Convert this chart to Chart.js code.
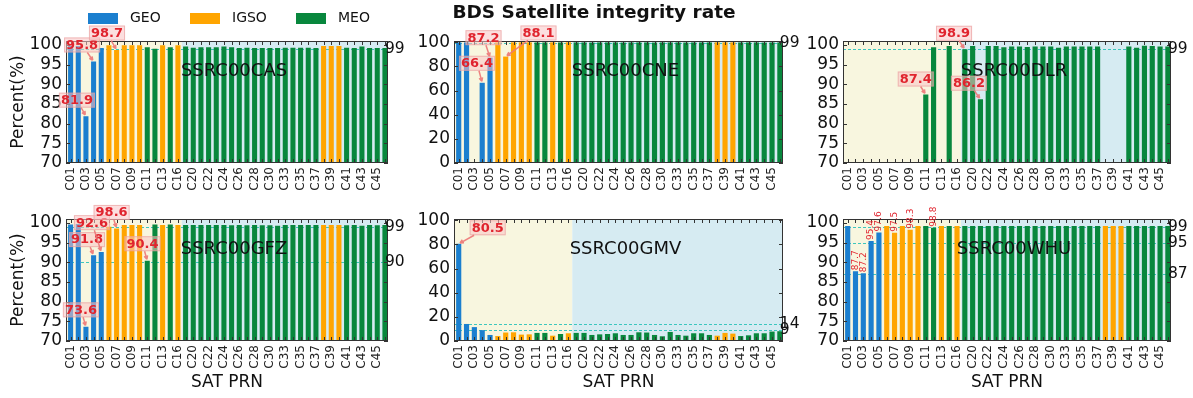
<!DOCTYPE html>
<html>
<head>
<meta charset="utf-8">
<title>BDS Satellite integrity rate</title>
<script src="https://cdn.jsdelivr.net/npm/chart.js@4.4.0/dist/chart.umd.min.js"></script>
<style>
  html, body { margin: 0; padding: 0; background: #fff; }
  #fig { position: relative; width: 1193px; height: 398px; overflow: hidden; background: #fff; }
  #fig canvas { position: absolute; left: 0; top: 0; }
</style>
</head>
<body>
<div id="fig"></div>
<script>
// ---- data -------------------------------------------------------------
const prn = ['C01','C02','C03','C04','C05','C06','C07','C08','C09','C10',
             'C11','C12','C13','C14','C16','C19','C20','C21','C22','C23',
             'C24','C25','C26','C27','C28','C29','C30','C32','C33','C34',
             'C35','C36','C37','C38','C39','C40','C41','C42','C43','C44',
             'C45','C46'];

// orbit type of each satellite (same order as prn)
const orbitType = ['GEO','GEO','GEO','GEO','GEO','IGSO','IGSO','IGSO','IGSO','IGSO',
                   'MEO','MEO','IGSO','MEO','IGSO','MEO','MEO','MEO','MEO','MEO',
                   'MEO','MEO','MEO','MEO','MEO','MEO','MEO','MEO','MEO','MEO',
                   'MEO','MEO','MEO','IGSO','IGSO','IGSO','MEO','MEO','MEO','MEO',
                   'MEO','MEO'];

const orbitNames = ['GEO', 'IGSO', 'MEO'];

// integrity rate (%) per analysis centre, null = no product for that satellite
const cas = [99.8, 99.7, 81.9, 95.8, 99.2, 99.9, 98.7, 99.9, 99.9, 99.9,
             99.4, 99.0, 99.9, 99.4, 99.9, 99.6, 99.3, 99.4, 99.4, 99.4,
             99.6, 99.4, 99.2, 99.3, 99.2, 99.2, 99.2, 99.2, 99.3, 99.3,
             99.3, 99.3, 99.2, 99.7, 99.7, 99.7, 99.3, 99.2, 99.6, 99.2,
             99.2, 99.2];

const cne = [99.9, 99.8, null, 66.4, 87.2, 99.9, 88.1, 99.9, 99.9, 99.9,
             99.8, 99.8, 99.9, 99.8, 99.9, 99.8, 99.8, 99.7, 99.8, 99.8,
             99.8, 99.7, 99.8, 99.8, 99.8, 99.7, 99.8, 99.8, 99.8, 99.7,
             99.8, 99.8, 99.8, 99.9, 99.9, 99.9, 99.8, 99.8, 99.8, 99.7,
             99.8, 99.8];

const dlr = [null, null, null, null, null, null, null, null, null, null,
             87.4, 99.4, null, 99.7, null, 98.9, 99.7, 86.2, 99.7, 99.7,
             99.4, 99.6, 99.6, 99.5, 99.6, 99.6, 99.6, 99.3, 99.6, 99.6,
             99.6, 99.6, 99.6, null, null, null, 99.6, 99.3, 99.8, 99.7,
             99.6, 99.6];

const gfz = [99.6, 99.7, 73.6, 91.8, 92.6, 99.0, 98.6, 99.5, 99.5, 99.5,
             90.4, 99.6, 99.5, 99.6, 99.5, 99.5, 99.5, 99.5, 99.5, 99.5,
             99.5, 99.4, 99.5, 99.4, 99.5, 99.4, 99.4, 99.3, 99.5, 99.5,
             99.5, 99.5, 99.5, 99.5, 99.5, 99.5, 99.4, 99.5, 99.3, 99.5,
             99.4, 99.5];

const gmv = [80.5, 14.1, 11.5, 9.0, 5.0, 4.1, 7.0, 7.2, 5.3, 5.5,
             6.7, 6.7, 4.4, 5.8, 6.4, 6.7, 6.7, 5.0, 5.5, 5.8,
             6.4, 5.0, 5.0, 7.2, 7.0, 5.0, 3.9, 7.5, 5.0, 4.4,
             6.4, 6.4, 5.0, 4.4, 6.7, 6.1, 4.1, 4.7, 6.4, 6.4,
             7.8, 8.1];

const whu = [99.2, 87.7, 87.2, 95.4, 97.6, 99.2, 97.5, 99.2, 98.3, 99.2,
             99.2, 98.8, 99.2, 99.2, 99.2, 99.2, 99.2, 99.2, 99.2, 99.2,
             99.2, 99.2, 99.2, 99.2, 99.2, 99.2, 99.2, 99.2, 99.2, 99.2,
             99.2, 99.2, 99.2, 99.2, 99.2, 99.2, 99.2, 99.2, 99.2, 99.2,
             99.2, 99.2];

// reference levels marked with dashed lines
const refCas = [99];
const refCne = [99];
const refDlr = [99];
const refGfz = [99, 90];
const refGmv = [14, 9];
const refWhu = [99, 95, 87];

// tick labels
const xTickLabels = prn.map((p, i) => (i % 2 === 0 ? p : ''));
const yTicksHigh = [70, 75, 80, 85, 90, 95, 100];
const yTicksFull = [0, 20, 40, 60, 80, 100];

// ---- styling ----------------------------------------------------------
const W = 1193, H = 398;
const FONT = "'DejaVu Sans', 'Liberation Sans', sans-serif";
const COLORS = { GEO: '#1b7fcf', IGSO: '#ffa500', MEO: '#08873d' };
const BAND_GEO_IGSO = '#f8f6df';
const BAND_MEO = '#d6ebf2';
const REF_COLOR = 'rgba(52,196,186,0.95)';
const NOTE_COLOR = '#e0242e';
const FRAME = '#333333';

// panel layout: plot rectangle [left, top, right, bottom], height of the tick label band
const panels = [
  { name: 'SSRC00CAS', values: cas, refs: refCas, yMin: 70, yTicks: yTicksHigh,
    plot: [66, 41, 388, 163], band: 35, yTitle: true, xTitle: false, header: true,
    notes: [{ i: 2, dx: -9, dy: -16 }, { i: 3, dx: -11.5, dy: -16.5 }, { i: 6, dx: -9.6, dy: -17 }] },
  { name: 'SSRC00CNE', values: cne, refs: refCne, yMin: 0, yTicks: yTicksFull,
    plot: [454, 41, 783, 163], band: 35, yTitle: false, xTitle: false,
    notes: [{ i: 3, dx: -5.2, dy: -19.5 }, { i: 4, dx: -6.5, dy: -20 }, { i: 6, dx: 32.8, dy: -23.6 }] },
  { name: 'SSRC00DLR', values: dlr, refs: refDlr, yMin: 70, yTicks: yTicksHigh,
    plot: [843, 41, 1171, 163], band: 35, yTitle: false, xTitle: false,
    notes: [{ i: 10, dx: -10, dy: -15.5 }, { i: 15, dx: -10.8, dy: -16 }, { i: 17, dx: -11.5, dy: -16 }] },
  { name: 'SSRC00GFZ', values: gfz, refs: refGfz, yMin: 70, yTicks: yTicksHigh,
    plot: [66, 219, 388, 341], band: 57, yTitle: true, xTitle: true,
    notes: [{ i: 2, dx: -5, dy: -17 }, { i: 3, dx: -6.6, dy: -15.6 }, { i: 4, dx: -9.3, dy: -29.4 },
            { i: 6, dx: -5, dy: -16 }, { i: 10, dx: -4.8, dy: -17 }] },
  { name: 'SSRC00GMV', values: gmv, refs: refGmv, yMin: 0, yTicks: yTicksFull,
    plot: [454, 219, 783, 341], band: 57, yTitle: false, xTitle: true,
    notes: [{ i: 0, dx: 29, dy: -16 }] },
  { name: 'SSRC00WHU', values: whu, refs: refWhu, yMin: 70, yTicks: yTicksHigh,
    plot: [843, 219, 1171, 341], band: 57, yTitle: false, xTitle: true,
    notes: [], tags: [1, 2, 3, 4, 6, 8, 11] }
];

// ---- drawing helpers --------------------------------------------------
function drawBoxedNote(ctx, bx, by, text, dx, dy) {
  ctx.save();
  ctx.font = 'bold 13px ' + FONT;
  const tw = ctx.measureText(text).width;
  const bw = tw + 4, bh = 15;
  const cx = bx + dx, cy = by + dy;
  // arrow from the box edge to the bar top
  const vx = bx - cx, vy = by - cy;
  const s = Math.min(Math.abs(vx) > 1e-6 ? (bw / 2) / Math.abs(vx) : Infinity,
                     Math.abs(vy) > 1e-6 ? (bh / 2) / Math.abs(vy) : Infinity);
  const sx = cx + vx * s, sy = cy + vy * s;
  const len = Math.hypot(bx - sx, by - sy);
  const ux = (bx - sx) / len, uy = (by - sy) / len;
  const ex = bx - ux * 1.5, ey = by - uy * 1.5;
  ctx.fillStyle = 'rgba(250,196,196,0.55)';
  ctx.strokeStyle = 'rgba(232,150,150,0.55)';
  ctx.lineWidth = 1;
  ctx.fillRect(cx - bw / 2, cy - bh / 2, bw, bh);
  ctx.strokeRect(cx - bw / 2 + 0.5, cy - bh / 2 + 0.5, bw - 1, bh - 1);
  ctx.strokeStyle = 'rgba(236,118,118,0.9)';
  ctx.lineWidth = 1.5;
  ctx.beginPath();
  ctx.moveTo(sx, sy);
  ctx.lineTo(ex, ey);
  const a = Math.atan2(uy, ux), hl = 4;
  ctx.moveTo(ex, ey);
  ctx.lineTo(ex - hl * Math.cos(a - 0.45), ey - hl * Math.sin(a - 0.45));
  ctx.moveTo(ex, ey);
  ctx.lineTo(ex - hl * Math.cos(a + 0.45), ey - hl * Math.sin(a + 0.45));
  ctx.stroke();
  ctx.fillStyle = NOTE_COLOR;
  ctx.textAlign = 'center';
  ctx.textBaseline = 'middle';
  ctx.fillText(text, cx, cy + 0.5);
  ctx.restore();
}

function drawHeader(ctx) {
  ctx.save();
  ctx.fillStyle = '#111';
  ctx.font = 'bold 18.5px ' + FONT;
  ctx.textAlign = 'center';
  ctx.textBaseline = 'middle';
  ctx.fillText('BDS Satellite integrity rate', 594, 13.5);
  const patchX = [88, 190, 296];
  ctx.font = '14px ' + FONT;
  ctx.textAlign = 'left';
  orbitNames.forEach((n, k) => {
    ctx.fillStyle = COLORS[n];
    ctx.fillRect(patchX[k], 13, 30, 11);
    ctx.fillStyle = '#111';
    ctx.fillText(n, patchX[k] + 42, 18.5);
  });
  ctx.restore();
}

const panelDecor = {
  id: 'panelDecor',
  beforeDatasetsDraw(chart, args, o) {
    const { ctx, chartArea: a, scales: { x, y } } = chart;
    const split = x.getPixelForValue(o.split);
    ctx.save();
    ctx.fillStyle = BAND_GEO_IGSO;
    ctx.fillRect(a.left, a.top, split - a.left, a.bottom - a.top);
    ctx.fillStyle = BAND_MEO;
    ctx.fillRect(split, a.top, a.right - split, a.bottom - a.top);
    ctx.strokeStyle = REF_COLOR;
    ctx.lineWidth = 1;
    ctx.setLineDash([3, 2]);
    o.refs.forEach(v => {
      const py = Math.round(y.getPixelForValue(v)) + 0.5;
      ctx.beginPath();
      ctx.moveTo(a.left, py);
      ctx.lineTo(a.right, py);
      ctx.stroke();
    });
    ctx.restore();
  },
  afterDraw(chart, args, o) {
    const { ctx, chartArea: a, scales: { x, y } } = chart;
    ctx.save();
    // frame
    ctx.strokeStyle = FRAME;
    ctx.lineWidth = 1;
    ctx.strokeRect(a.left + 0.5, a.top + 0.5, a.right - a.left - 1, a.bottom - a.top - 1);
    // inward ticks on all four sides
    ctx.beginPath();
    x.ticks.forEach(t => {
      const px = Math.round(x.getPixelForValue(t.value)) + 0.5;
      ctx.moveTo(px, a.bottom); ctx.lineTo(px, a.bottom - 4);
      ctx.moveTo(px, a.top); ctx.lineTo(px, a.top + 4);
    });
    y.ticks.forEach(t => {
      const py = Math.round(y.getPixelForValue(t.value)) + 0.5;
      ctx.moveTo(a.left, py); ctx.lineTo(a.left + 4, py);
      ctx.moveTo(a.right, py); ctx.lineTo(a.right - 4, py);
    });
    ctx.stroke();
    // reference level labels
    ctx.fillStyle = '#111';
    ctx.font = '15.5px ' + FONT;
    ctx.textAlign = 'left';
    ctx.textBaseline = 'middle';
    const lx = x.getPixelForValue(prn.length - 1);
    o.refs.forEach(v => ctx.fillText(String(v), lx, y.getPixelForValue(v)));
    // analysis centre name
    ctx.font = '18px ' + FONT;
    ctx.textAlign = 'center';
    ctx.fillText(o.name, (a.left + a.right) / 2 + 7, a.top + 0.25 * (a.bottom - a.top));
    ctx.restore();

    // boxed value notes with arrows
    o.notes.forEach(n => {
      const v = o.values[n.i];
      drawBoxedNote(ctx, x.getPixelForValue(n.i), y.getPixelForValue(v), v.toFixed(1), n.dx, n.dy);
    });
    // small vertical value tags
    (o.tags || []).forEach(i => {
      const v = o.values[i];
      ctx.save();
      ctx.translate(x.getPixelForValue(i), y.getPixelForValue(v) - 1);
      ctx.rotate(-Math.PI / 2);
      ctx.fillStyle = NOTE_COLOR;
      ctx.font = '9px ' + FONT;
      ctx.textAlign = 'left';
      ctx.textBaseline = 'middle';
      ctx.fillText(v.toFixed(1), 0, 0);
      ctx.restore();
    });
    if (o.header) drawHeader(ctx);
  }
};

// ---- build the six panels --------------------------------------------
const fig = document.getElementById('fig');
panels.forEach(p => {
  const cv = document.createElement('canvas');
  cv.width = W; cv.height = H;
  cv.style.width = W + 'px'; cv.style.height = H + 'px';
  fig.appendChild(cv);
  const [L, T, R, B] = p.plot;
  const yAxisW = 66;
  new Chart(cv, {
    type: 'bar',
    data: {
      datasets: [{
        label: p.name,
        data: p.values.map((v, i) => ({ x: i, y: v })),
        backgroundColor: orbitType.map(t => COLORS[t]),
        borderWidth: 0,
        categoryPercentage: 1.0,
        barPercentage: 0.66
      }]
    },
    options: {
      responsive: false,
      animation: false,
      devicePixelRatio: 1,
      events: [],
      layout: { padding: { left: L - yAxisW, top: T, right: W - R, bottom: H - B - p.band } },
      plugins: {
        legend: { display: false },
        tooltip: { enabled: false },
        title: { display: false },
        panelDecor: {
          split: 14.5, refs: p.refs, name: p.name, values: p.values,
          notes: p.notes, tags: p.tags, header: !!p.header
        }
      },
      scales: {
        x: {
          type: 'linear',
          min: -0.6,
          max: 41.4,
          offset: false,
          bounds: 'data',
          grid: { display: false, drawTicks: false },
          border: { display: false },
          afterBuildTicks: s => { s.ticks = prn.map((_, i) => ({ value: i })); },
          afterFit: s => { s.height = p.band; s.paddingLeft = 0; s.paddingRight = 0; },
          ticks: {
            autoSkip: false, minRotation: 90, maxRotation: 90, padding: 4,
            color: '#222', font: { family: FONT, size: 12 },
            callback: v => xTickLabels[Math.round(v)] || ''
          },
          title: {
            display: p.xTitle, text: 'SAT PRN', color: '#111',
            font: { family: FONT, size: 17 }, padding: { top: 0, bottom: 5 }
          }
        },
        y: {
          min: p.yMin,
          max: 101,
          bounds: 'data',
          grid: { display: false, drawTicks: false },
          border: { display: false },
          afterBuildTicks: s => { s.ticks = p.yTicks.map(v => ({ value: v })); },
          afterFit: s => { s.width = yAxisW; s.paddingTop = 0; s.paddingBottom = 0; },
          ticks: { autoSkip: false, padding: 4, color: '#111', font: { family: FONT, size: 17 } },
          title: {
            display: p.yTitle, text: 'Percent(%)', color: '#111',
            font: { family: FONT, size: 17 }, padding: { top: 8, bottom: 0 }
          }
        }
      }
    },
    plugins: [panelDecor]
  });
});
</script>
</body>
</html>
